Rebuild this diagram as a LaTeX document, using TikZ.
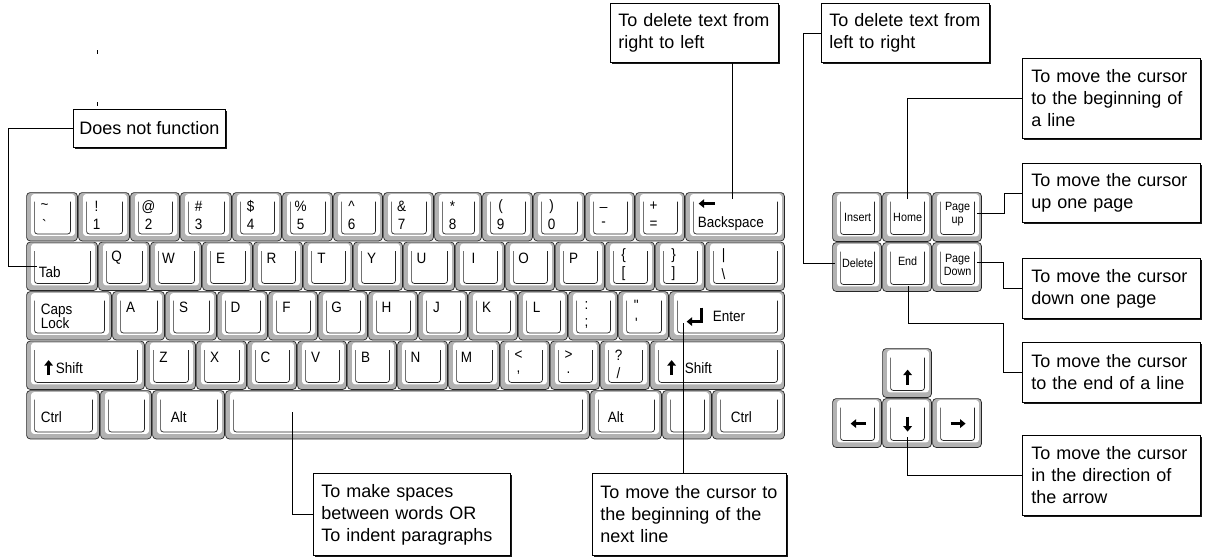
\documentclass[tikz,border=0pt]{standalone}
\usepackage{fontspec}
\setmainfont{Liberation Sans}
\newfontfamily\keyf[FakeStretch=0.9]{Liberation Sans}
\usetikzlibrary{arrows.meta,calc,shadows}
\newcommand\KK[5]{\pgfmathsetmacro\myKw{#4-#2-1.2}\pgfmathsetmacro\myKh{#5-#3-1.2}\pgfmathsetmacro\myKx{(#2+#4)/2}\pgfmathsetmacro\myKy{(#3+#5)/2}\node[keyst, minimum width=\myKw pt, minimum height=\myKh pt] (#1) at (\myKx,\myKy) {};}
\newcommand\KT[6]{\KK{#1}{#2}{#4}{#3}{#4+49.5}%
  \node[klab] (#1-u) at ($(#1.north west)+(18,14)$) {#5};%
  \node[klab] (#1-d) at ($(#1.north west)+(18,32)$) {#6};}
\newcommand\KL[5]{\KK{#1}{#2}{#4}{#3}{#4+49.5}%
  \node[klab] (#1-l) at ($(#1.north west)+(18,16)$) {#5};}
\newcommand\KW[6]{\KK{#1}{#2}{#4}{#3}{#4+49.5}%
  \node[klab, anchor=west] (#1-l) at ($(#1.north west)+(#5)$) {#6};}
\begin{document}
\begin{tikzpicture}[x=1pt,y=-1pt,
  keyst/.style={draw=black!85, line width=0.7pt, fill=black!30, rounded corners=3.5pt, inner sep=0pt, outer sep=0pt,
    path picture={
      \fill[white,rounded corners=3pt] ([xshift=4.5pt,yshift=-1.5pt]path picture bounding box.north west) rectangle ([xshift=-2.5pt,yshift=5pt]path picture bounding box.south east);
      \draw[black!85,line width=0.7pt,rounded corners=2.5pt] ([xshift=8pt,yshift=-9pt]path picture bounding box.north west) |- ([xshift=-7pt,yshift=7pt]path picture bounding box.south east) -- ([xshift=-7pt,yshift=-9pt]path picture bounding box.north east);
    }},
  klab/.style={font=\keyf\fontsize{15}{15}\selectfont, inner sep=0pt},
  rlab/.style={font=\keyf\fontsize{12}{13}\selectfont, inner sep=0pt, align=center},
  glyph/.style={line width=2.6pt, -{Triangle[length=5.5pt,width=8.5pt]}},
  callout/.style={anchor=north west, draw, fill=white, line width=0.8pt, inner ysep=0pt, align=left,
    font=\fontsize{18}{22}\selectfont,
    drop shadow={shadow xshift=1.6pt, shadow yshift=-1.6pt, fill=black, opacity=0.9}},
  conn/.style={line width=0.8pt, black}
]
\useasboundingbox (0,0) rectangle (1209,557);

% ---------- row 1
\KT{ka}{26}{78}{192}{\textasciitilde}{\textasciigrave}
\KT{k1}{78}{130}{192}{!}{1}
\KT{k2}{130}{180}{192}{@}{2}
\KT{k3}{180}{232}{192}{\#}{3}
\KT{k4}{232}{282}{192}{\$}{4}
\KT{k5}{282}{333}{192}{\%}{5}
\KT{k6}{333}{383}{192}{\textasciicircum}{6}
\KT{k7}{383}{434}{192}{\&}{7}
\KT{k8}{434}{482}{192}{*}{8}
\KT{k9}{482}{533}{192}{(}{9}
\KT{k0}{533}{585}{192}{)}{0}
\KT{kmin}{585}{635}{192}{\_}{-}
\KT{keq}{635}{685}{192}{+}{=}
\KW{kbs}{685}{785}{192}{12,31}{Backspace}
\draw[glyph] ($(kbs.north west)+(29,11)$) -- ++(-16,0);

% ---------- row 2
\KW{ktab}{26}{98}{241.5}{12,30}{Tab}
\KL{kq}{98}{150}{241.5}{Q}
\KL{kw}{150}{202}{241.5}{W}
\KL{ke}{202}{253}{241.5}{E}
\KL{kr}{253}{303}{241.5}{R}
\KL{kt}{303}{353}{241.5}{T}
\KL{ky}{353}{403}{241.5}{Y}
\KL{ku}{403}{455}{241.5}{U}
\KL{ki}{455}{505}{241.5}{I}
\KL{ko}{505}{555}{241.5}{O}
\KL{kp}{555}{605}{241.5}{P}
\KT{klb}{605}{655}{241.5}{\{}{[}
\KT{krb}{655}{705}{241.5}{\}}{]}
\KT{kbsl}{705}{785}{241.5}{|}{\textbackslash}

% ---------- row 3
\KK{kcaps}{26}{291}{112}{340.5}
\node[klab, anchor=west, align=left, font=\keyf\fontsize{15}{14}\selectfont] (kcaps-l) at ($(kcaps.north west)+(14,25)$) {Caps\\Lock};
\KL{kaa}{112}{165}{291}{A}
\KL{ks}{165}{217}{291}{S}
\KL{kd}{217}{268}{291}{D}
\KL{kf}{268}{318}{291}{F}
\KL{kg}{318}{368}{291}{G}
\KL{kh}{368}{418}{291}{H}
\KL{kj}{418}{468}{291}{J}
\KL{kk}{468}{518}{291}{K}
\KL{kl}{518}{568}{291}{L}
\KT{ksc}{568}{618}{291}{:}{;}
\KT{kqt}{618}{669}{291}{\textquotedbl}{\textquotesingle}
\KW{kent}{669}{785}{291}{43,25}{Enter}
\draw[glyph] ($(kent.north west)+(32,16)$) |- ++(-15,14);

% ---------- row 4
\KW{klsh}{26}{145}{340.5}{29,27}{Shift}
\draw[glyph] ($(klsh.north west)+(22,34)$) -- ++(0,-15);
\KL{kz}{145}{196}{340.5}{Z}
\KL{kx}{196}{247}{340.5}{X}
\KL{kc}{247}{297}{340.5}{C}
\KL{kv}{297}{347}{340.5}{V}
\KL{kb}{347}{397}{340.5}{B}
\KL{kn}{397}{448}{340.5}{N}
\KL{km}{448}{500}{340.5}{M}
\KT{klt}{500}{550}{340.5}{<}{,}
\KT{kgt}{550}{600}{340.5}{>}{.}
\KT{ksl}{600}{650}{340.5}{?}{/}
\KW{krsh}{650}{785}{340.5}{34,27}{Shift}
\draw[glyph] ($(krsh.north west)+(21,34)$) -- ++(0,-15);

% ---------- row 5
\KW{klctl}{26}{100}{390}{14,27}{Ctrl}
\KK{klwin}{100}{390}{152}{439.5}
\KW{klalt}{152}{225}{390}{18,27}{Alt}
\KK{kspace}{225}{390}{590}{439.5}
\KW{kralt}{590}{662}{390}{17,27}{Alt}
\KK{krwin}{662}{390}{712}{439.5}
\KW{krctl}{712}{785}{390}{18,27}{Ctrl}

% ---------- editing block
\KK{kins}{832}{192}{882}{242}
\KK{khome}{882}{192}{932}{242}
\KK{kpgup}{932}{192}{982}{242}
\KK{kdel}{832}{242}{882}{292}
\KK{kend}{882}{242}{932}{292}
\KK{kpgdn}{932}{242}{982}{292}
\node[rlab] (kins-l) at ($(kins.north west)+(25,25)$) {Insert};
\node[rlab] (khome-l) at ($(khome.north west)+(25,25)$) {Home};
\node[rlab] (kpgup-l) at ($(kpgup.north west)+(25,22)$) {Page\\up};
\node[rlab] (kdel-l) at ($(kdel.north west)+(25,21)$) {Delete};
\node[rlab] (kend-l) at ($(kend.north west)+(25,19)$) {End};
\node[rlab] (kpgdn-l) at ($(kpgdn.north west)+(25,22)$) {Page\\Down};

% ---------- arrow block
\KK{kup}{882}{348}{932}{398}
\KK{kleft}{832}{398}{882}{448}
\KK{kdown}{882}{398}{932}{448}
\KK{kright}{932}{398}{982}{448}
\draw[glyph] ($(kup.north west)+(25,36)$) -- ++(0,-15);
\draw[glyph] ($(kdown.north west)+(25,18)$) -- ++(0,15);
\draw[glyph] ($(kleft.north west)+(33,25)$) -- ++(-15,0);
\draw[glyph] ($(kright.north west)+(18,25)$) -- ++(15,0);

% ---------- callout boxes
\node[callout, inner xsep=6pt, minimum height=38pt] (dnf) at (73,109) {Does not function};
\node[callout, text width=152pt, inner xsep=8pt, minimum height=59pt] (bsbox) at (610,3) {To delete text from\\right to left};
\node[callout, text width=152pt, inner xsep=8pt, minimum height=59pt] (delbox) at (821,3) {To delete text from\\left to right};
\node[callout, text width=160pt, inner xsep=9pt, minimum height=80pt] (homebox) at (1022,58) {To move the cursor\\to the beginning of\\a line};
\node[callout, text width=160pt, inner xsep=9pt, minimum height=59pt] (pgupbox) at (1022,163) {To move the cursor\\up one page};
\node[callout, text width=160pt, inner xsep=9pt, minimum height=60pt] (pgdnbox) at (1022,258) {To move the cursor\\down one page};
\node[callout, text width=160pt, inner xsep=9pt, minimum height=60pt] (endbox) at (1022,342) {To move the cursor\\to the end of a line};
\node[callout, text width=160pt, inner xsep=9pt, minimum height=80pt] (arrbox) at (1022,435) {To move the cursor\\in the direction of\\the arrow};
\node[callout, text width=181pt, inner xsep=8pt, minimum height=82pt] (spbox) at (313,473) {To make spaces\\between words OR\\To indent paragraphs};
\node[callout, text width=178pt, inner xsep=8pt, minimum height=82pt] (entbox) at (592,473) {To move the cursor to\\the beginning of the\\next line};

% ---------- connector end points
\coordinate (tabpt) at (37,266);
\coordinate (bspt) at (732,199);
\coordinate (delpt) at (835,263);
\coordinate (homept) at (907,199);
\coordinate (pguppt) at (977,213);
\coordinate (pgdnpt) at (977,262);
\coordinate (endpt) at (908,286);
\coordinate (downpt) at (907,437);
\coordinate (spacept) at (292,412);
\coordinate (enterpt) at (683,323);
\coordinate (tk1) at (97,50);
\coordinate (tk2) at (97,102);

% ---------- connectors
\draw[conn] (dnf.west) -- ++(-65,0) |- (tabpt);
\draw[conn] (bspt) -- (bspt |- bsbox.south);
\draw[conn] (delbox.west) -- ++(-18,0) |- (delpt);
\draw[conn] (homept) |- (homebox.west);
\draw[conn] (pguppt) -- ++(27,0) |- (pgupbox.west);
\draw[conn] (pgdnpt) -- ++(26,0) |- (pgdnbox.west);
\draw[conn] (endpt) -- ++(0,37) -| ($(endbox.west)+(-19,0)$) -- (endbox.west);
\draw[conn] (downpt) |- (arrbox.west);
\draw[conn] (spacept) |- (spbox.west);
\draw[conn] (enterpt) -- (enterpt |- entbox.north);
\draw[conn] (tk1) -- ++(0,4);
\draw[conn] (tk2) -- ++(0,4);
\end{tikzpicture}
\end{document}
